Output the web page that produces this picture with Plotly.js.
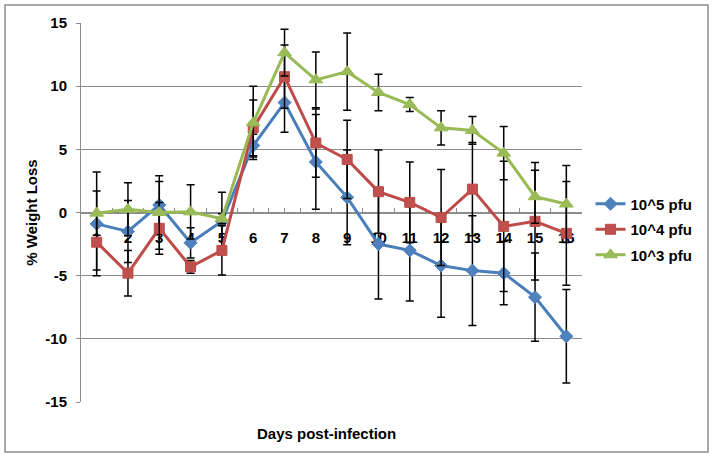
<!DOCTYPE html>
<html>
<head>
<meta charset="utf-8">
<script src="https://cdn.plot.ly/plotly-3.0.1.min.js"></script>
<style>
  html, body { margin: 0; padding: 0; background: #ffffff; }
  #chart { width: 714px; height: 458px; }
</style>
</head>
<body>
<div id="chart"></div>
<script>
// ---- data ----
const days = [1, 2, 3, 4, 5, 6, 7, 8, 9, 10, 11, 12, 13, 14, 15, 16];
const seriesNames = ["10^5 pfu", "10^4 pfu", "10^3 pfu"];

const pfu5 = [-0.9, -1.5, 0.6, -2.4, -0.7, 5.3, 8.7, 4.0, 1.2, -2.5, -3.0, -4.2, -4.6, -4.8, -6.7, -9.8];
const pfu5Err = [4.1, 2.45, 1.85, 1.2, 2.3, 0.9, 2.35, 3.75, 3.75, 4.35, 4.0, 4.1, 4.35, 2.5, 3.5, 3.7];

const pfu4 = [-2.35, -4.8, -1.25, -4.3, -3.0, 6.7, 10.75, 5.5, 4.2, 1.65, 0.8, -0.4, 1.85, -1.1, -0.7, -1.65];
const pfu4Err = [2.2, 1.8, 2.05, 0.5, 1.95, 2.2, 2.5, 2.7, 3.1, 3.3, 3.2, 3.8, 3.7, 5.15, 4.65, 4.1];

const pfu3 = [-0.05, 0.25, 0.0, 0.05, -0.5, 7.1, 12.65, 10.5, 11.15, 9.5, 8.55, 6.7, 6.5, 4.7, 1.25, 0.67];
const pfu3Err = [1.75, 2.1, 2.9, 2.15, 0.4, 2.9, 1.85, 2.2, 3.05, 1.45, 0.55, 1.35, 1.1, 2.1, 2.1, 3.05];

const yTickVals = [-15, -10, -5, 0, 5, 10, 15];
const yTickText = ["-15", "-10", "-5", "0", "5", "10", "15"];
const yTitle = "% Weight Loss";
const xTitle = "Days post-infection";

// ---- styling ----
const FONT = "Liberation Sans, Arial, Helvetica, sans-serif";
const GRID = "#8c8c8c";

function errBar(arr) {
  return { type: "data", array: arr, symmetric: true, visible: true,
           color: "#000000", thickness: 1.5, width: 4 };
}

const traces = [
  { x: days, y: pfu5, name: seriesNames[0], legendgroup: "a", type: "scatter", mode: "lines+markers",
    line: { color: "#4A7EBB", width: 3 },
    marker: { symbol: "diamond", size: 10, color: "#4F81BD", line: { color: "#4A7EBB", width: 1 } },
    error_y: errBar(pfu5Err) },
  { x: days, y: pfu4, name: seriesNames[1], legendgroup: "b", type: "scatter", mode: "lines+markers",
    line: { color: "#BE4B48", width: 3 },
    marker: { symbol: "square", size: 10, color: "#C0504D", line: { color: "#BE4B48", width: 1 } },
    error_y: errBar(pfu4Err) },
  { x: days, y: pfu3, name: seriesNames[2], legendgroup: "c", type: "scatter", mode: "lines+markers",
    line: { color: "#98B954", width: 3 },
    marker: { symbol: "triangle-up", size: 12, color: "#9BBB59", line: { color: "#98B954", width: 1 } },
    error_y: errBar(pfu3Err) }
];

const M = { l: 81, r: 132, t: 23, b: 56 };
const W = 714, H = 458;
const pw = W - M.l - M.r, ph = H - M.t - M.b;
// outer frame in paper coordinates
const fx0 = (5 - M.l) / pw, fx1 = (708 - M.l) / pw;
const fy1 = 1 + (M.t - 5) / ph, fy0 = -(452 - (H - M.b)) / ph;

const layout = {
  width: W, height: H,
  margin: M,
  paper_bgcolor: "#ffffff",
  plot_bgcolor: "#ffffff",
  font: { family: FONT, size: 15, color: "#000000", weight: "bold" },
  showlegend: true,
  legend: {
    x: 1.017, xanchor: "left", y: 0.455, yanchor: "middle",
    bgcolor: "rgba(0,0,0,0)", borderwidth: 0,
    font: { family: FONT, size: 15, color: "#000", weight: "bold" },
    tracegroupgap: 3
  },
  xaxis: {
    range: [0.5, 16.5],
    anchor: "free", position: 0.5,
    tickmode: "linear", tick0: 1, dtick: 1,
    ticks: "inside", ticklen: 5, tickcolor: GRID, tickwidth: 1,
    minor: { dtick: 0.5, tick0: 0.5, ticks: "inside", ticklen: 5, tickcolor: GRID, tickwidth: 1 },
    showline: true, linecolor: GRID, linewidth: 1,
    showgrid: false, zeroline: false,
    ticklabelstandoff: 11,
    layer: "below traces",
    tickfont: { family: FONT, size: 15, color: "#000", weight: "bold" }
  },
  yaxis: {
    range: [-15, 15],
    tickmode: "array", tickvals: yTickVals, ticktext: yTickText,
    ticks: "outside", ticklen: 4, tickcolor: GRID,
    showline: true, linecolor: GRID, linewidth: 1,
    showgrid: true, gridcolor: GRID, gridwidth: 1,
    zeroline: false,
    ticklabelstandoff: 6,
    tickfont: { family: FONT, size: 15, color: "#000", weight: "bold" },
    title: { text: yTitle, standoff: 4, font: { family: FONT, size: 15, color: "#000", weight: "bold" } }
  },
  annotations: [
    { text: xTitle, xref: "paper", yref: "paper", x: 0.49, y: -0.055, yanchor: "top",
      showarrow: false, font: { family: FONT, size: 15, color: "#000", weight: "bold" } }
  ],
  shapes: [
    { type: "rect", xref: "paper", yref: "paper", x0: fx0, x1: fx1, y0: fy0, y1: fy1,
      line: { color: "#8c8c8c", width: 1.5 }, fillcolor: "rgba(0,0,0,0)", layer: "below" }
  ]
};

Plotly.newPlot("chart", traces, layout, { displayModeBar: false, staticPlot: true });
</script>
</body>
</html>
